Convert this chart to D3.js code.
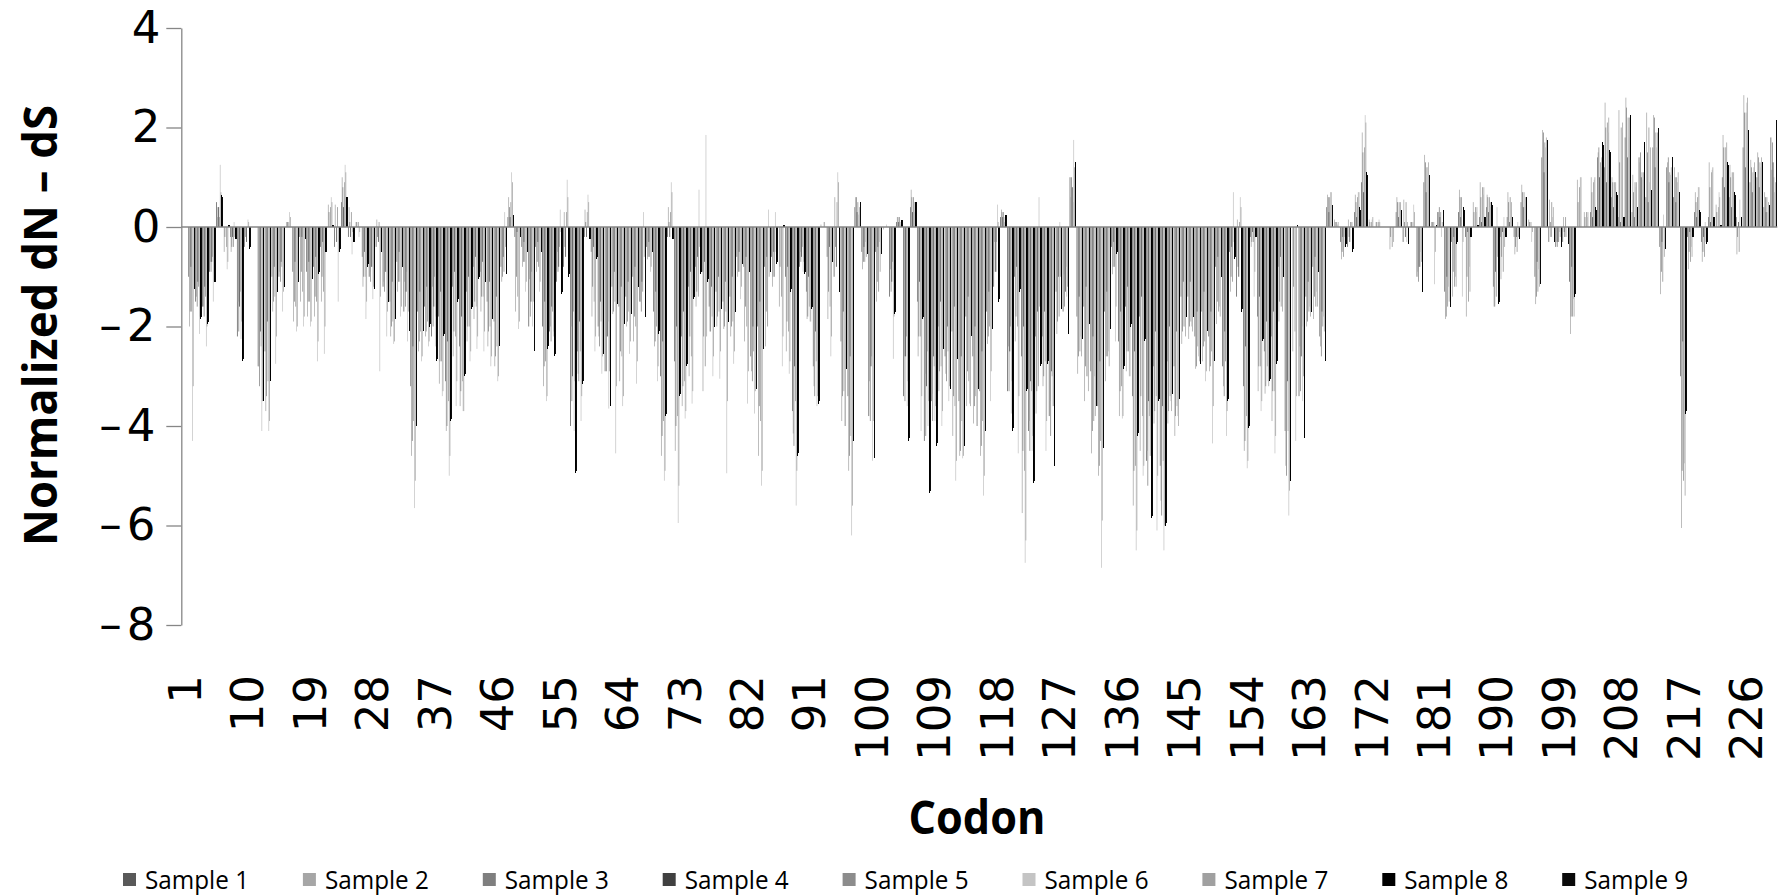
<!DOCTYPE html>
<html><head><meta charset="utf-8">
<script src="https://cdn.jsdelivr.net/npm/d3@7"></script>
<style>body{margin:0;background:#fff;overflow:hidden}</style>
</head><body><svg id="chart" width="1791" height="896"></svg>
<script>
const codons = d3.range(1, 231);
const tickLabels = [1,10,19,28,37,46,55,64,73,82,91,100,109,118,127,136,145,154,163,172,181,190,199,208,217,226];
const yTicks = [-8,-6,-4,-2,0,2,4];
const sampleNames = ["Sample 1","Sample 2","Sample 3","Sample 4","Sample 5","Sample 6","Sample 7","Sample 8","Sample 9"];
const sampleColors = ["#595959","#a6a6a6","#7f7f7f","#404040","#8c8c8c","#c4c4c4","#a0a0a0","#000000","#0a0a0a"];

const sample1 = [0,-1.0,-1.5,-1.6,-0.9,0.5,0,-0.2,-2.2,-0.4,
0,-2.8,-2.5,-1.0,-1.0,0,-0.9,-0.2,-0.9,-0.8,
-0.4,0,-0.4,0.5,-0.2,0,-0.6,-1.0,-0.4,-1.2,
-1.5,-0.7,-1.7,-3.2,-1.7,-1.6,-2.2,-1.8,-3.1,-1.2,
-2.4,-1.3,-0.8,-0.9,-1.5,-1.9,-0.8,0.2,-0.2,-0.4,
-2.0,-0.4,-2.0,-2.1,-1.1,-0.8,-4.0,-2.5,-0.2,-0.5,
-2.0,-2.9,-1.2,-1.6,-1.4,-1.0,-1.5,-0.4,-1.7,-3.0,
-0.2,-2.7,-2.2,-1.2,-0.8,-0.9,-1.6,-1.3,-1.5,-1.4,
-0.6,-0.8,-2.6,-2.0,-0.8,-0.6,0,-1.0,-3.7,-0.8,
-1.3,-2.8,0,-0.6,-1.0,-2.3,-3.4,0.4,-0.5,-3.8,
-0.5,0,-1.4,0.1,-3.4,0.4,-1.5,-4.3,-3.5,-2.0,
-2.6,-2.1,-3.5,-1.8,-2.6,-3.3,-1.7,-1.2,0.2,-3.3,
-1.0,-2.6,-4.1,-2.2,-2.2,-3.8,-1.3,-1.7,1.0,-1.8,
-1.6,-2.9,-3.6,-1.7,-0.4,-2.3,-1.6,-3.4,-1.8,-4.7,
-2.8,-4.8,-2.7,-2.8,-1.4,-1.4,-2.2,-1.7,-2.2,-0.8,
-2.8,-0.5,-1.4,-3.2,-0.2,-1.8,-2.5,-2.2,-0.8,-4.1,
0,-3.4,-1.4,-0.8,-2.2,0.4,0,-0.3,-0.4,0.3,
0.9,0,0,0,0,0.3,-0.3,0,-1.0,0.9,
0,0.3,-1.3,-0.3,0.3,-0.2,0,0.2,0.4,-1.2,
-0.2,0.2,-0.2,0.5,0,-1.0,1.4,-0.3,-0.4,-0.3,
-1.1,0,0,0.3,1.4,1.2,0.6,0.2,1.8,0.3,
1.4,0.6,1.6,-0.4,1.2,0.6,-3.0,-0.2,0.3,-0.3,
0.2,0,1.0,0.6,0.2,1.6,0.9,1.0,0.4,1.8];

const sample2 = [0,-2.0,-1.4,-1.6,-0.7,0.2,-0.5,-0.5,-1.5,0,
0,-2.8,-3.7,-1.7,-0.9,0.1,-1.9,-1.5,-1.8,-1.8,
-1.5,0.45,0.45,1.0,0.4,0.1,-1.2,-0.9,0.15,-1.1,
-2.2,-1.3,-1.1,-4.6,-2.5,-2.2,-1.2,-3.15,-4.1,-2.6,
-3.6,-2.3,-1.85,-1.7,-2.4,-2.8,-1.1,0.6,-1.7,-0.8,
-1.05,-0.9,-3.2,-2.0,-0.5,0.3,-2.0,-2.95,0.35,-1.8,
-2.2,-2.2,-1.75,-3.1,-2.0,-2.3,-1.5,-0.65,-2.4,-4.6,
0.4,-4.5,-3.6,-3.0,-1.6,-3.3,-2.1,-2.0,-2.05,-2.2,
-1.0,-2.3,-2.9,-4.6,-2.4,-1.2,-1.6,-2.5,-4.15,-0.5,
-1.85,-3.2,0.05,-1.85,0.6,-3.9,-4.9,0.6,-0.85,-3.1,
-1.5,-0.05,-0.85,0.2,-2.6,0.75,-2.6,-2.95,-3.35,-3.3,
-2.95,-4.2,-4.6,-3.6,-3.95,-4.6,-2.35,-0.3,0.35,-2.4,
-2.3,-5.75,-3.9,-3.75,-3.2,-3.5,-2.15,-0.95,0.6,-2.95,
-3.5,-4.55,-5.0,-3.1,-0.95,-3.8,-2.9,-5.6,-4.5,-4.5,
-3.95,-5.5,-3.95,-4.2,-2.35,-2.25,-2.85,-2.7,-2.9,-1.95,
-3.2,-1.3,0.15,-4.5,-0.4,-3.3,-3.35,-3.9,-1.9,-4.8,
-2.5,-2.4,-2.0,-1.85,-2.4,0.65,0.15,-0.65,0.15,0.65,
1.9,0.15,0.1,0,-0.45,0.6,0.55,0.1,-0.9,1.45,
0.1,0.3,-1.85,-1.4,0.75,-1.8,0.5,0.9,0.65,-1.6,
-1.05,0.7,-0.55,0.85,0.15,-1.55,1.95,0.55,-0.3,0.2,
-2.15,0.95,0.3,1.0,1.5,2.5,1.0,2.35,2.6,1.05,
1.3,2.3,2.25,-1.35,1.3,1.2,-6.05,-0.85,0.7,-0.7,
1.3,0.45,1.85,1.25,-0.55,2.65,1.35,1.5,0.7,1.15];

const sample3 = [0,-1.7,-1.6,-1.8,-0.9,0.4,-0.2,-0.4,-2.1,-0.2,
0,-3.2,-3.4,-1.5,-1.1,0.1,-1.5,-0.9,-1.5,-1.4,
-1.0,0.3,0,0.8,0.1,0.1,-1.0,-1.1,-0.2,-1.3,
-2.0,-1.1,-1.6,-4.3,-2.3,-2.1,-2.0,-2.7,-4.0,-2.1,
-3.3,-2.0,-1.5,-1.4,-2.1,-2.6,-1.0,0.4,-1.0,-0.7,
-1.8,-0.7,-2.8,-2.3,-0.9,-0.4,-3.5,-3.1,0.1,-1.2,
-2.4,-2.9,-1.7,-2.5,-1.9,-1.8,-1.7,-0.6,-2.3,-4.2,
0.1,-4.0,-3.2,-2.2,-1.3,-2.2,-2.1,-1.8,-2.0,-2.0,
-0.9,-1.6,-3.1,-3.6,-1.7,-1.0,-0.8,-1.9,-4.4,-0.7,
-1.8,-3.4,0,-1.3,-0.4,-3.4,-4.6,0.6,-0.7,-3.9,
-1.1,0,-1.3,0.2,-3.5,0.6,-2.2,-4.2,-3.9,-2.9,
-3.1,-3.4,-4.5,-2.9,-3.6,-4.4,-2.2,-0.9,0.3,-3.3,
-1.8,-4.5,-4.5,-3.3,-3.0,-4.2,-1.9,-1.6,1.0,-2.6,
-2.8,-4.1,-4.8,-2.6,-0.8,-3.3,-2.5,-4.9,-3.4,-5.2,
-3.7,-5.8,-3.7,-3.8,-2.1,-2.0,-2.8,-2.4,-2.8,-1.5,
-3.4,-1.0,-0.8,-4.3,-0.3,-2.8,-3.2,-3.3,-1.5,-5.0,
-1.2,-3.3,-1.9,-1.4,-2.6,0.6,0.1,-0.5,-0.2,0.5,
1.5,0.1,0.1,0,-0.2,0.5,0.1,0.1,-1.1,1.3,
0.1,0.4,-1.8,-0.9,0.6,-1.0,0.3,0.6,0.6,-1.6,
-0.6,0.5,-0.4,0.7,0.1,-1.4,1.9,0.1,-0.4,-0.1,
-1.8,0.5,0.2,0.7,1.6,2.0,0.9,1.3,2.4,0.7,
1.5,1.5,2.2,-0.9,1.4,1.0,-4.9,-0.5,0.5,-0.5,
0.8,0.3,1.6,1.0,-0.2,2.3,1.2,1.4,0.6,1.7];

const sample4 = [0,-0.8,-1.1,-1.2,-0.7,0.4,0,-0.2,-1.6,-0.3,
0,-2.1,-1.9,-0.8,-0.7,0,-0.7,-0.2,-0.7,-0.6,
-0.3,0,-0.3,0.4,-0.2,0,-0.5,-0.8,-0.3,-0.9,
-1.1,-0.5,-1.3,-2.4,-1.3,-1.2,-1.6,-1.3,-2.3,-0.9,
-1.8,-1.0,-0.6,-0.7,-1.1,-1.4,-0.6,0.2,-0.1,-0.3,
-1.5,-0.3,-1.5,-1.6,-0.8,-0.6,-3.0,-1.9,-0.2,-0.4,
-1.5,-2.2,-0.9,-1.2,-1.1,-0.8,-1.1,-0.3,-1.3,-2.3,
-0.2,-2.0,-1.7,-0.9,-0.6,-0.7,-1.2,-1.0,-1.1,-1.0,
-0.5,-0.6,-2.0,-1.5,-0.6,-0.5,0,-0.8,-2.8,-0.6,
-1.0,-2.1,0,-0.4,-0.8,-1.7,-2.6,0.3,-0.4,-2.8,
-0.4,0,-1.1,0.1,-2.6,0.3,-1.1,-3.2,-2.6,-1.5,
-2.0,-1.6,-2.6,-1.4,-2.0,-2.5,-1.3,-0.9,0.2,-2.5,
-0.8,-2.0,-3.1,-1.7,-1.7,-2.9,-1.0,-1.3,0.8,-1.4,
-1.2,-2.2,-2.7,-1.3,-0.3,-1.7,-1.2,-2.5,-1.4,-3.5,
-2.1,-3.6,-2.0,-2.1,-1.1,-1.1,-1.7,-1.3,-1.7,-0.6,
-2.1,-0.4,-1.0,-2.4,-0.1,-1.4,-1.9,-1.7,-0.6,-3.1,
0,-2.6,-1.1,-0.6,-1.7,0.3,0,-0.2,-0.3,0.2,
0.7,0,0,0,0,0.2,-0.2,0,-0.8,0.7,
0,0.2,-1.0,-0.2,0.2,-0.1,0,0.1,0.3,-0.9,
-0.1,0.1,-0.2,0.4,0,-0.7,1.1,-0.2,-0.3,-0.2,
-0.8,0,0,0.2,1.0,0.9,0.4,0.1,1.4,0.2,
1.0,0.5,1.2,-0.3,0.9,0.5,-2.3,-0.1,0.2,-0.2,
0.1,0,0.8,0.4,0.1,1.2,0.7,0.8,0.3,1.3];

const sample5 = [0,-1.7,-1.2,-1.4,-0.6,0.2,-0.4,-0.4,-1.3,0,
0,-2.4,-3.1,-1.4,-0.8,0.1,-1.6,-1.3,-1.5,-1.5,
-1.3,0.4,0.4,0.9,0.3,0.1,-1.0,-0.8,0.1,-0.9,
-1.9,-1.1,-0.9,-3.9,-2.1,-1.9,-1.0,-2.7,-3.5,-2.2,
-3.1,-2.0,-1.6,-1.4,-2.0,-2.4,-0.9,0.5,-1.4,-0.7,
-0.9,-0.8,-2.7,-1.7,-0.4,0.3,-1.7,-2.5,0.3,-1.5,
-1.9,-1.9,-1.5,-2.6,-1.7,-2.0,-1.3,-0.6,-2.0,-3.9,
0.3,-3.8,-3.1,-2.6,-1.4,-2.8,-1.8,-1.7,-1.7,-1.9,
-0.9,-2.0,-2.5,-3.9,-2.0,-1.0,-1.4,-2.1,-3.5,-0.4,
-1.6,-2.7,0,-1.6,0.5,-3.3,-4.2,0.5,-0.7,-2.6,
-1.3,0,-0.7,0.2,-2.2,0.6,-2.2,-2.5,-2.8,-2.8,
-2.5,-3.6,-3.9,-3.1,-3.4,-3.9,-2.0,-0.3,0.3,-2.0,
-2.0,-4.9,-3.3,-3.2,-2.7,-3.0,-1.8,-0.8,0.5,-2.5,
-3.0,-3.9,-4.3,-2.6,-0.8,-3.2,-2.5,-4.8,-3.8,-3.8,
-3.4,-4.7,-3.4,-3.6,-2.0,-1.9,-2.4,-2.3,-2.5,-1.7,
-2.7,-1.1,0.1,-3.8,-0.3,-2.8,-2.8,-3.3,-1.6,-4.1,
-2.1,-2.0,-1.7,-1.6,-2.0,0.6,0.1,-0.6,0.1,0.6,
1.6,0.1,0.1,0,-0.4,0.5,0.5,0.1,-0.8,1.2,
0.1,0.3,-1.6,-1.2,0.6,-1.5,0.4,0.8,0.6,-1.4,
-0.9,0.6,-0.5,0.7,0.1,-1.3,1.7,0.5,-0.3,0.2,
-1.8,0.8,0.3,0.9,1.3,2.1,0.9,2.0,2.2,0.9,
1.1,2.0,1.9,-1.1,1.1,1.0,-5.1,-0.7,0.6,-0.6,
1.1,0.4,1.6,1.1,-0.5,2.3,1.1,1.3,0.6,1.0];

const sample6 = [0,-4.3,-2.15,-2.4,-1.5,1.25,-0.85,0.1,-2.25,0.15,
0,-4.1,-4.1,-2.75,-1.7,0.3,-2.1,-2.0,-2.0,-2.7,
-2.55,0.6,-1.5,1.25,-0.55,-0.2,-1.85,-1.45,-2.9,-2.2,
-2.35,-1.8,-2.3,-5.65,-2.7,-2.4,-2.4,-3.4,-5.0,-3.6,
-3.7,-2.7,-2.45,-2.5,-2.8,-3.1,0.3,1.1,-2.05,-1.3,
-2.0,-1.3,-3.5,-2.2,0.35,0.95,-4.1,-3.9,0.65,-2.5,
-2.95,-3.65,-4.55,-3.6,-2.55,-3.15,0.3,-0.9,-3.1,-5.1,
0.9,-5.95,-3.85,-3.55,0.75,1.85,-3.0,-3.05,-4.95,-2.75,
-1.45,-3.55,-3.75,-5.2,0.35,0.3,-2.8,-2.95,-5.6,-0.9,
-1.9,-3.6,0.1,-2.6,1.1,-4.0,-6.2,0.25,-0.3,-4.7,
-0.3,0.05,-2.65,0.05,-3.6,0.3,-4.1,-4.0,-3.9,-4.0,
-3.5,-5.1,-4.65,-3.55,-4.0,-5.4,-3.5,0.45,0.1,-3.75,
-4.55,-6.75,-4.5,0.6,-4.5,-3.6,0.1,-1.4,1.75,-2.2,
-3.0,-3.0,-6.85,-2.5,-2.3,-3.85,-3.0,-6.5,-5.0,-4.6,
-6.1,-6.5,-3.5,-3.8,-2.0,-2.0,-2.6,-3.1,-4.35,-1.6,
-4.2,0.7,0.6,-4.85,-1.4,-3.7,-3.1,-4.55,-1.5,-5.8,
-4.3,-3.5,-1.6,-1.3,-1.8,0.7,0.05,-0.2,0.1,0.7,
2.25,0.15,0.15,0,-0.2,0.45,-0.3,0.45,-0.5,1.2,
-1.15,-0.2,-1.2,-1.0,-1.4,-0.8,0.3,0.65,0.4,0.4,
0.2,0.35,0.1,0.4,-0.3,-0.85,1.6,0.2,-0.1,-0.2,
-1.45,1.0,0.2,0.95,1.2,1.9,0.8,1.9,1.8,0.8,
0.95,0.9,1.6,0.25,1.05,0.9,-4.75,-0.4,0.8,0.1,
1.15,0.7,1.6,1.0,0.55,2.5,1.2,1.2,0.3,0.7];

const sample7 = [0,-3.2,-1.8,-2.0,-1.1,0.7,-0.7,-0.2,-1.9,0.1,
0,-3.5,-3.9,-2.2,-1.3,0.2,-2.0,-1.8,-1.9,-2.3,
-2.0,0.5,-0.5,1.1,-0.1,-0.1,-1.5,-1.2,-1.4,-1.7,
-2.3,-1.6,-1.7,-5.1,-2.6,-2.3,-1.8,-3.3,-4.6,-3.1,
-3.7,-2.5,-2.2,-2.1,-2.6,-3.0,-0.4,0.9,-1.9,-1.1,
-1.5,-1.1,-3.4,-2.1,-0.1,0.6,-3.1,-3.4,0.5,-2.2,
-2.6,-2.9,-3.2,-3.4,-2.3,-2.7,-0.6,-0.8,-2.8,-4.9,
0.7,-5.2,-3.7,-3.3,-0.4,-2.2,-2.6,-2.5,-3.5,-2.5,
-1.2,-2.9,-3.3,-4.9,-1.0,-0.5,-2.2,-2.7,-4.9,-0.7,
-1.9,-3.4,0.1,-2.2,0.9,-4.0,-5.6,0.4,-0.6,-3.9,
-0.9,0,-1.8,0.1,-3.1,0.5,-3.4,-3.5,-3.6,-3.7,
-3.2,-4.7,-4.6,-3.6,-4.0,-5.0,-2.9,0.1,0.2,-3.1,
-3.4,-6.3,-4.2,-1.6,-3.9,-3.6,-1.0,-1.2,1.2,-2.6,
-3.3,-3.8,-5.9,-2.8,-1.6,-3.8,-3.0,-6.1,-4.8,-4.6,
-5.0,-6.0,-3.7,-4.0,-2.2,-2.1,-2.7,-2.9,-3.6,-1.8,
-3.7,-0.3,0.4,-4.7,-0.9,-3.5,-3.2,-4.2,-1.7,-5.3,
-3.4,-3.0,-1.8,-1.6,-2.1,0.7,0.1,-0.4,0.1,0.7,
2.1,0.2,0.1,0,-0.3,0.5,0.1,0.3,-0.7,1.3,
-0.5,0.1,-1.5,-1.2,-0.3,-1.3,0.4,0.8,0.5,-0.6,
-0.4,0.5,-0.2,0.6,-0.1,-1.2,1.8,0.4,-0.2,0,
-1.8,1.0,0.3,1.0,1.4,2.2,0.9,2.1,2.2,0.9,
1.1,1.6,1.9,-0.6,1.2,1.1,-5.4,-0.6,0.8,-0.3,
1.2,0.6,1.7,1.1,0,2.6,1.3,1.4,0.5,0.9];

const sample8 = [0,-1.3,-1.85,-1.95,-1.1,0.65,0.05,-0.25,-2.7,-0.45,
0,-3.5,-3.1,-1.3,-1.2,0,-1.15,-0.25,-1.1,-0.95,
-0.5,0.05,-0.5,0.6,-0.3,0,-0.8,-1.25,-0.5,-1.5,
-1.85,-0.85,-2.15,-4.05,-2.15,-2.0,-2.7,-2.2,-3.9,-1.5,
-3.0,-1.65,-1.05,-1.1,-1.85,-2.4,-0.95,0.25,-0.2,-0.55,
-2.55,-0.55,-2.45,-2.6,-1.35,-1.0,-4.95,-3.15,-0.25,-0.65,
-2.55,-3.6,-1.55,-1.95,-1.8,-1.25,-1.85,-0.5,-2.15,-3.8,
-0.25,-3.4,-2.8,-1.45,-0.95,-1.1,-2.0,-1.65,-1.9,-1.7,
-0.8,-0.95,-3.3,-2.5,-0.95,-0.75,0.05,-1.3,-4.6,-0.95,
-1.65,-3.55,0,-0.7,-1.3,-2.85,-4.3,0.55,-0.6,-4.7,
-0.6,0,-1.75,0.15,-4.3,0.5,-1.85,-5.35,-4.4,-2.45,
-3.25,-2.65,-4.4,-2.25,-3.3,-4.15,-2.1,-1.5,0.25,-4.1,
-1.3,-3.3,-5.15,-2.8,-2.75,-4.8,-1.65,-2.15,1.3,-2.25,
-2.0,-3.65,-4.5,-2.1,-0.55,-2.85,-2.0,-4.2,-2.3,-5.85,
-3.5,-6.0,-3.35,-3.45,-1.8,-1.8,-2.8,-2.15,-2.75,-1.05,
-3.5,-0.65,-1.7,-4.05,-0.2,-2.3,-3.1,-2.75,-1.0,-5.1,
0.05,-4.25,-1.75,-0.95,-2.75,0.5,0,-0.4,-0.5,0.4,
1.1,0,0,0,0,0.35,-0.35,0,-1.3,1.1,
0.05,0.4,-1.65,-0.35,0.4,-0.2,0.05,0.2,0.5,-1.55,
-0.2,0.2,-0.25,0.6,0,-1.2,1.8,-0.35,-0.45,-0.4,
-1.4,0,0,0.4,1.7,1.55,0.7,0.2,2.25,0.4,
1.7,0.75,2.05,-0.5,1.45,0.75,-3.75,-0.2,0.35,-0.35,
0.2,0.05,1.3,0.7,0.2,1.95,1.1,1.3,0.5,2.2];

const sample9 = [0,-1.25,-1.8,-1.9,-1.1,0.6,0.05,-0.25,-2.65,-0.4,
0,-3.45,-3.05,-1.3,-1.15,0,-1.1,-0.25,-1.05,-0.9,
-0.5,0.05,-0.45,0.6,-0.3,0,-0.75,-1.2,-0.5,-1.45,
-1.8,-0.8,-2.1,-4.0,-2.1,-1.95,-2.65,-2.15,-3.85,-1.45,
-2.95,-1.6,-1.0,-1.05,-1.8,-2.35,-0.9,0.25,-0.2,-0.5,
-2.5,-0.5,-2.4,-2.55,-1.3,-0.95,-4.9,-3.1,-0.25,-0.6,
-2.5,-3.55,-1.5,-1.9,-1.75,-1.2,-1.8,-0.5,-2.1,-3.75,
-0.25,-3.35,-2.75,-1.4,-0.9,-1.05,-1.95,-1.6,-1.85,-1.65,
-0.75,-0.9,-3.25,-2.45,-0.9,-0.7,0.05,-1.25,-4.55,-0.9,
-1.6,-3.5,0,-0.65,-1.25,-2.8,-4.25,0.5,-0.55,-4.65,
-0.55,0,-1.7,0.15,-4.25,0.5,-1.8,-5.3,-4.35,-2.4,
-3.2,-2.6,-4.35,-2.2,-3.25,-4.1,-2.05,-1.45,0.25,-4.05,
-1.25,-3.25,-5.1,-2.75,-2.7,-4.75,-1.6,-2.1,1.25,-2.2,
-1.95,-3.6,-4.45,-2.05,-0.5,-2.8,-1.95,-4.15,-2.25,-5.8,
-3.45,-5.95,-3.3,-3.4,-1.75,-1.75,-2.75,-2.1,-2.7,-1.0,
-3.45,-0.6,-1.65,-4.0,-0.2,-2.25,-3.05,-2.7,-0.95,-5.05,
0.05,-4.2,-1.7,-0.9,-2.7,0.45,0,-0.35,-0.45,0.35,
1.05,0,0,0,0,0.3,-0.3,0,-1.25,1.05,
0.05,0.35,-1.6,-0.3,0.35,-0.2,0.05,0.2,0.45,-1.5,
-0.2,0.2,-0.25,0.55,0,-1.15,1.75,-0.3,-0.4,-0.35,
-1.35,0,0,0.35,1.65,1.5,0.65,0.2,2.2,0.35,
1.65,0.7,2.0,-0.45,1.4,0.7,-3.7,-0.2,0.3,-0.3,
0.2,0.05,1.25,0.65,0.2,1.9,1.05,1.25,0.45,2.15];

const series = [sample1,sample2,sample3,sample4,sample5,sample6,sample7,sample8,sample9];

const svg = d3.select("#chart");
svg.append("rect").attr("width",1791).attr("height",896).attr("fill","#fff");

const plotLeft = 181.3, plotRight = 1777.3;
const y = d3.scaleLinear().domain([-8, 4]).range([625, 28]);
const x0 = d3.scaleBand().domain(codons).range([plotLeft, plotRight]).paddingInner(0.04).paddingOuter(0.02);
const x1 = d3.scaleBand().domain(d3.range(9)).range([0, x0.bandwidth()]);

const barsG = svg.append("g");
series.forEach((vals, j) => {
  const isBlack = j >= 7;
  barsG.append("g").attr("fill", sampleColors[j])
    .attr("shape-rendering", isBlack ? "crispEdges" : "auto")
    .selectAll("rect")
    .data(codons.map((c, i) => ({c, v: vals[i]})))
    .join("rect")
    .attr("x", d => x0(d.c) + x1(j))
    .attr("width", x1.bandwidth())
    .attr("y", d => Math.min(y(d.v), y(0)))
    .attr("height", d => Math.abs(y(d.v) - y(0)));
});

// zero (category) axis line
svg.append("line").attr("x1", plotLeft).attr("x2", plotRight)
  .attr("y1", y(0)).attr("y2", y(0))
  .attr("stroke", "#868686").attr("stroke-width", 1.3);

// y axis
const yAxis = d3.axisLeft(y).tickValues(yTicks).tickSize(15).tickSizeOuter(0).tickPadding(6)
  .tickFormat(d => d < 0 ? "\u2013" + Math.abs(d) : String(d));
const yg = svg.append("g").attr("transform", `translate(${plotLeft},0)`).call(yAxis);
yg.select(".domain").attr("stroke", "#868686").attr("stroke-width", 1.3);
yg.selectAll(".tick line").attr("stroke", "#868686").attr("stroke-width", 1.3);
yg.selectAll(".tick text").attr("font-family", "DejaVu Sans").attr("font-size", 45).attr("fill", "#000")
  .attr("letter-spacing", d => d < 0 ? 5 : 0);

// x tick labels
const xg = svg.append("g");
xg.selectAll("text").data(tickLabels).join("text")
  .attr("transform", d => `translate(${x0(d) + x0.bandwidth()/2},675) rotate(-90)`)
  .attr("text-anchor", "end")
  .attr("dy", "0.36em")
  .attr("font-family", "DejaVu Sans")
  .attr("font-size", 45)
  .attr("fill", "#000")
  .text(d => d);

// axis titles
svg.append("text")
  .attr("transform", "translate(57,325.5) rotate(-90)")
  .attr("text-anchor", "middle")
  .attr("font-family", "Open Sans").attr("font-weight", "bold").attr("font-size", 47)
  .attr("textLength", 441).attr("lengthAdjust", "spacingAndGlyphs")
  .text("Normalized dN \u2013 dS");

svg.append("text")
  .attr("x", 977).attr("y", 834)
  .attr("text-anchor", "middle")
  .attr("font-family", "Open Sans").attr("font-weight", "bold").attr("font-size", 47)
  .attr("textLength", 137).attr("lengthAdjust", "spacingAndGlyphs")
  .text("Codon");

// legend
const lg = svg.append("g");
sampleNames.forEach((name, i) => {
  const lx = 123 + i * 179.9;
  lg.append("rect").attr("x", lx).attr("y", 873).attr("width", 13).attr("height", 13).attr("fill", sampleColors[i]);
  lg.append("text").attr("x", lx + 22).attr("y", 889)
    .attr("font-family", "Open Sans").attr("font-size", 26)
    .attr("textLength", 104).attr("lengthAdjust", "spacingAndGlyphs")
    .attr("fill", "#000").text(name);
});
</script>
</body></html>
